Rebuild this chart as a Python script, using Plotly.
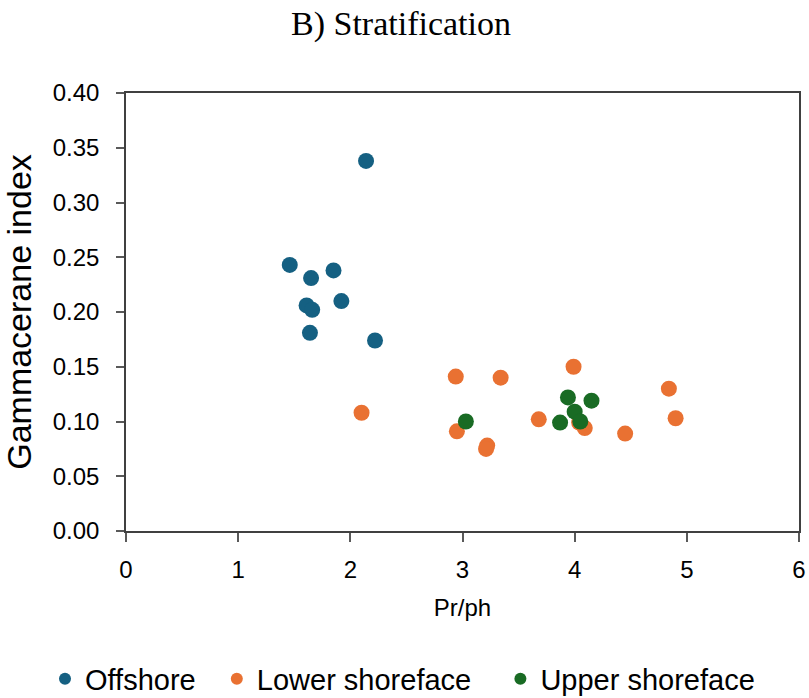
import plotly.graph_objects as go

# Data
offshore_x = [2.14, 1.46, 1.65, 1.85, 1.61, 1.66, 1.92, 1.64, 2.22]
offshore_y = [0.338, 0.243, 0.231, 0.238, 0.206, 0.202, 0.210, 0.181, 0.174]

lower_x = [2.10, 2.94, 3.34, 2.95, 3.22, 3.21, 3.68, 3.99, 4.04, 4.09, 4.45, 4.84, 4.90]
lower_y = [0.108, 0.141, 0.140, 0.091, 0.078, 0.075, 0.102, 0.150, 0.099, 0.094, 0.089, 0.130, 0.103]

upper_x = [3.03, 3.94, 4.15, 4.00, 3.87, 4.05]
upper_y = [0.100, 0.122, 0.119, 0.109, 0.099, 0.100]

series_names = ["Offshore", "Lower shoreface", "Upper shoreface"]
series_colors = ["#156082", "#E97132", "#196B24"]
name_pads = ["\u00a0\u00a0", "\u00a0\u00a0\u00a0", ""]

fig = go.Figure()
for name, pad, xs, ys, col in zip(series_names, name_pads, [offshore_x, lower_x, upper_x],
                                  [offshore_y, lower_y, upper_y], series_colors):
    fig.add_trace(go.Scatter(
        x=xs, y=ys, mode="markers", name=name + pad,
        marker=dict(size=16, color=col, line=dict(width=0)),
    ))

sans = "Liberation Sans, Arial, sans-serif"
axis_font = dict(family=sans, size=24, color="#000000")

fig.update_layout(
    width=809, height=698,
    margin=dict(l=126, r=10, t=93, b=167, autoexpand=False),
    paper_bgcolor="white", plot_bgcolor="white",
    title=dict(text="B) Stratification", x=401/809, xanchor="center",
               y=1 - 23/698, yanchor="middle", xref="container", yref="container",
               font=dict(family="Liberation Serif, Times New Roman, serif", size=34, color="#000000")),
    showlegend=True,
    legend=dict(orientation="h",
                x=(45 - 126) / 673, xanchor="left", y=(531 - 679) / 438, yanchor="middle",
                font=dict(family=sans, size=29, color="#000000"),
                itemsizing="constant", bgcolor="rgba(0,0,0,0)"),
    font=axis_font,
)

fig.update_xaxes(
    range=[0, 6], dtick=1, tick0=0, showgrid=False, zeroline=False,
    showline=True, linecolor="#404040", linewidth=1.5, mirror=True,
    ticks="outside", ticklen=9, tickcolor="#595959", tickwidth=1.5,
    tickfont=axis_font, ticklabelstandoff=7, automargin=False,
    title=dict(text="Pr/ph", font=axis_font, standoff=18),
)
fig.update_yaxes(
    range=[0, 0.4], dtick=0.05, tick0=0, tickformat=".2f", showgrid=False, zeroline=False,
    showline=True, linecolor="#404040", linewidth=1.5, mirror=True,
    ticks="outside", ticklen=8, tickcolor="#595959", tickwidth=1.5,
    tickfont=axis_font, ticklabelstandoff=12, automargin=False,
    title=dict(text="Gammacerane index",
               font=dict(family=sans, size=34, color="#000000"),
               standoff=16),
)

fig.write_html("out.html")
